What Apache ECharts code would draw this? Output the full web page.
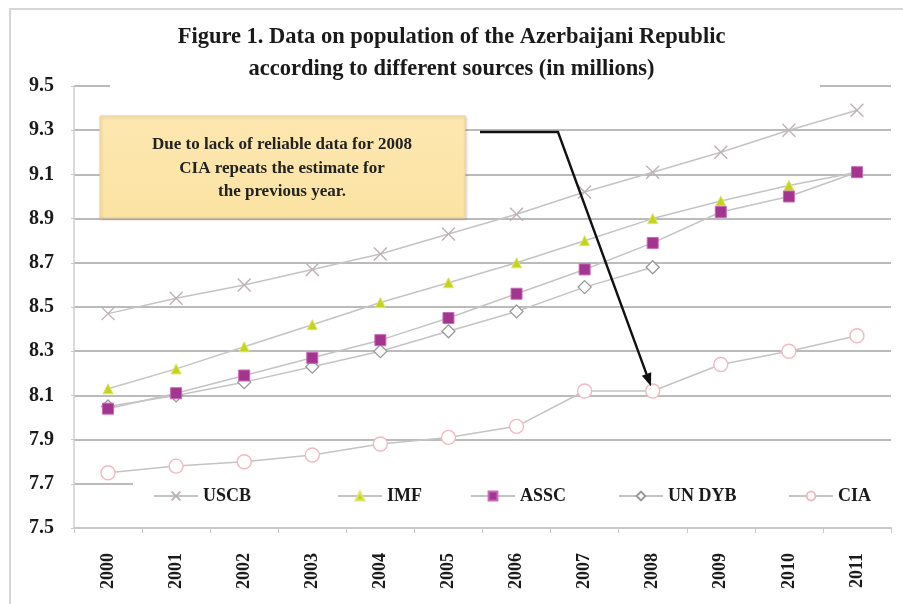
<!DOCTYPE html>
<html>
<head>
<meta charset="utf-8">
<script src="https://cdn.jsdelivr.net/npm/echarts@6/dist/echarts.min.js"></script>
<style>
  html, body { margin: 0; padding: 0; background: #fff; }
  #chart { width: 903px; height: 604px; }
</style>
</head>
<body>
<div id="chart"></div>
<script>
// Population of the Azerbaijani Republic, millions, by source
const years = ['2000', '2001', '2002', '2003', '2004', '2005', '2006', '2007', '2008', '2009', '2010', '2011'];
const uscb  = [8.47, 8.54, 8.60, 8.67, 8.74, 8.83, 8.92, 9.02, 9.11, 9.20, 9.30, 9.39];
const imf   = [8.13, 8.22, 8.32, 8.42, 8.52, 8.61, 8.70, 8.80, 8.90, 8.98, 9.05, 9.11];
const assc  = [8.04, 8.11, 8.19, 8.27, 8.35, 8.45, 8.56, 8.67, 8.79, 8.93, 9.00, 9.11];
const unDyb = [8.05, 8.10, 8.16, 8.23, 8.30, 8.39, 8.48, 8.59, 8.68, null, null, null];
const cia   = [7.75, 7.78, 7.80, 7.83, 7.88, 7.91, 7.96, 8.12, 8.12, 8.24, 8.30, 8.37];

const seriesNames = ['USCB', 'IMF', 'ASSC', 'UN DYB', 'CIA'];
const legendLeft = [153, 337, 470, 618, 788];

const noteLines = ['Due to lack of reliable data for 2008', 'CIA repeats the estimate for', 'the previous year.'];

const SERIF = '"Liberation Serif", "DejaVu Serif", serif';
const LINE = { color: '#c4c4c4', width: 1.5 };

const chart = echarts.init(document.getElementById('chart'));

function lineSeries(name, data, symbol, size, itemStyle, z) {
  return {
    name, type: 'line', data,
    symbol, symbolSize: size,
    showAllSymbol: true,
    lineStyle: LINE,
    itemStyle,
    z,
    animation: false,
    emphasis: { disabled: true }
  };
}

const option = {
  animation: false,
  backgroundColor: '#fff',
  title: {
    text: 'Figure 1. Data on population of the Azerbaijani Republic\naccording to different sources (in millions)',
    left: 'center',
    top: 16,
    textStyle: { fontFamily: SERIF, fontWeight: 'bold', fontSize: 22.5, lineHeight: 32, color: '#1a1a1a' }
  },
  legend: seriesNames.map((n, i) => ({
    data: [n],
    left: legendLeft[i],
    top: 487,
    padding: 0,
    itemWidth: 44,
    itemHeight: 11,
    itemGap: 6,
    selectedMode: false,
    z: 6,
    textStyle: { fontFamily: SERIF, fontWeight: 'bold', fontSize: 18, color: '#1a1a1a' }
  })),
  grid: { left: 74, right: 12, top: 86, bottom: 76, containLabel: false },
  xAxis: {
    type: 'category',
    data: years,
    boundaryGap: true,
    axisLine: { lineStyle: { color: '#c8c8c8', width: 2 } },
    axisTick: { show: true, length: 5, lineStyle: { color: '#c8c8c8' } },
    axisLabel: {
      rotate: 90, margin: 25,
      fontFamily: SERIF, fontWeight: 'bold', fontSize: 18, color: '#1a1a1a'
    },
    splitLine: { show: false }
  },
  yAxis: {
    type: 'value',
    min: 7.5, max: 9.5, interval: 0.2,
    axisLine: { show: true, lineStyle: { color: '#d0d0d0', width: 1.5 } },
    axisTick: { show: true, length: 3, lineStyle: { color: '#c8c8c8' } },
    axisLabel: {
      margin: 20,
      formatter: v => v.toFixed(1),
      fontFamily: SERIF, fontWeight: 'bold', fontSize: 20, color: '#1a1a1a'
    },
    splitLine: { show: true, lineStyle: { color: '#a4a4a4', width: 1.6 } }
  },
  series: [
    lineSeries('USCB', uscb, 'path://M0,0L10,10M10,0L0,10', 13,
      { color: 'rgba(0,0,0,0)', borderColor: '#bfb0b8', borderWidth: 1.4 }, 3),
    lineSeries('IMF', imf, 'triangle', 10,
      { color: '#c6d31c', borderColor: '#dde66a', borderWidth: 1 }, 4),
    lineSeries('ASSC', assc, 'rect', 11,
      { color: '#a3348f', borderColor: '#c968b6', borderWidth: 1 }, 5),
    lineSeries('UN DYB', unDyb, 'diamond', 13,
      { color: '#ffffff', borderColor: '#9a9a9a', borderWidth: 1.3 }, 4),
    lineSeries('CIA', cia, 'circle', 14,
      { color: '#ffffff', borderColor: '#f2b8c2', borderWidth: 1.4 }, 3)
  ]
};

chart.setOption(option);

// Annotation: callout box and arrow pointing at the repeated CIA value for 2008
const i2008 = years.indexOf('2008');
const tipPt = chart.convertToPixel({ xAxisIndex: 0, yAxisIndex: 0 }, [years[i2008], cia[i2008]]);
const elbow = [558, 132];
const dx = tipPt[0] - elbow[0], dy = tipPt[1] - elbow[1];
const len = Math.sqrt(dx * dx + dy * dy);
const ux = dx / len, uy = dy / len;
const tip = [tipPt[0] - ux * 5, tipPt[1] - uy * 5];
const headLen = 13, headHalf = 5;
const base = [tip[0] - ux * headLen, tip[1] - uy * headLen];
const head = [
  tip,
  [base[0] - uy * headHalf, base[1] + ux * headHalf],
  [base[0] + uy * headHalf, base[1] - ux * headHalf]
];

chart.setOption({
  graphic: [
    // outer frame
    { type: 'rect', shape: { x: 10, y: 9, width: 900, height: 620 },
      style: { fill: null, stroke: '#d6d6d6', lineWidth: 2 }, z: 20, silent: true },
    // white band behind the title
    { type: 'rect', shape: { x: 110, y: 14, width: 710, height: 76 },
      style: { fill: '#ffffff' }, z: 1, silent: true },
    // white band behind the legend
    { type: 'rect', shape: { x: 133, y: 476, width: 758, height: 44 },
      style: { fill: '#ffffff' }, z: 5, silent: true },
    // callout box
    { type: 'rect', shape: { x: 100, y: 116, width: 365, height: 102 },
      style: {
        fill: new echarts.graphic.LinearGradient(0, 0, 0, 1, [
          { offset: 0, color: '#fde7b0' }, { offset: 1, color: '#fbe3a3' }
        ]),
        stroke: '#ecd79a', lineWidth: 1,
        shadowBlur: 3, shadowColor: 'rgba(0,0,0,0.18)', shadowOffsetX: 1, shadowOffsetY: 1
      }, z: 10, silent: true },
    { type: 'text', x: 282, y: 133,
      style: {
        text: noteLines.join('\n'), fill: '#222', align: 'center', verticalAlign: 'top',
        font: 'bold 17px ' + SERIF, lineHeight: 23.5
      }, z: 11, silent: true },
    // arrow
    { type: 'polyline', shape: { points: [[480, 132], elbow, base] },
      style: { stroke: '#111', lineWidth: 2.4, fill: null }, z: 12, silent: true },
    { type: 'polygon', shape: { points: head },
      style: { fill: '#111' }, z: 12, silent: true }
  ]
});
</script>
</body>
</html>
